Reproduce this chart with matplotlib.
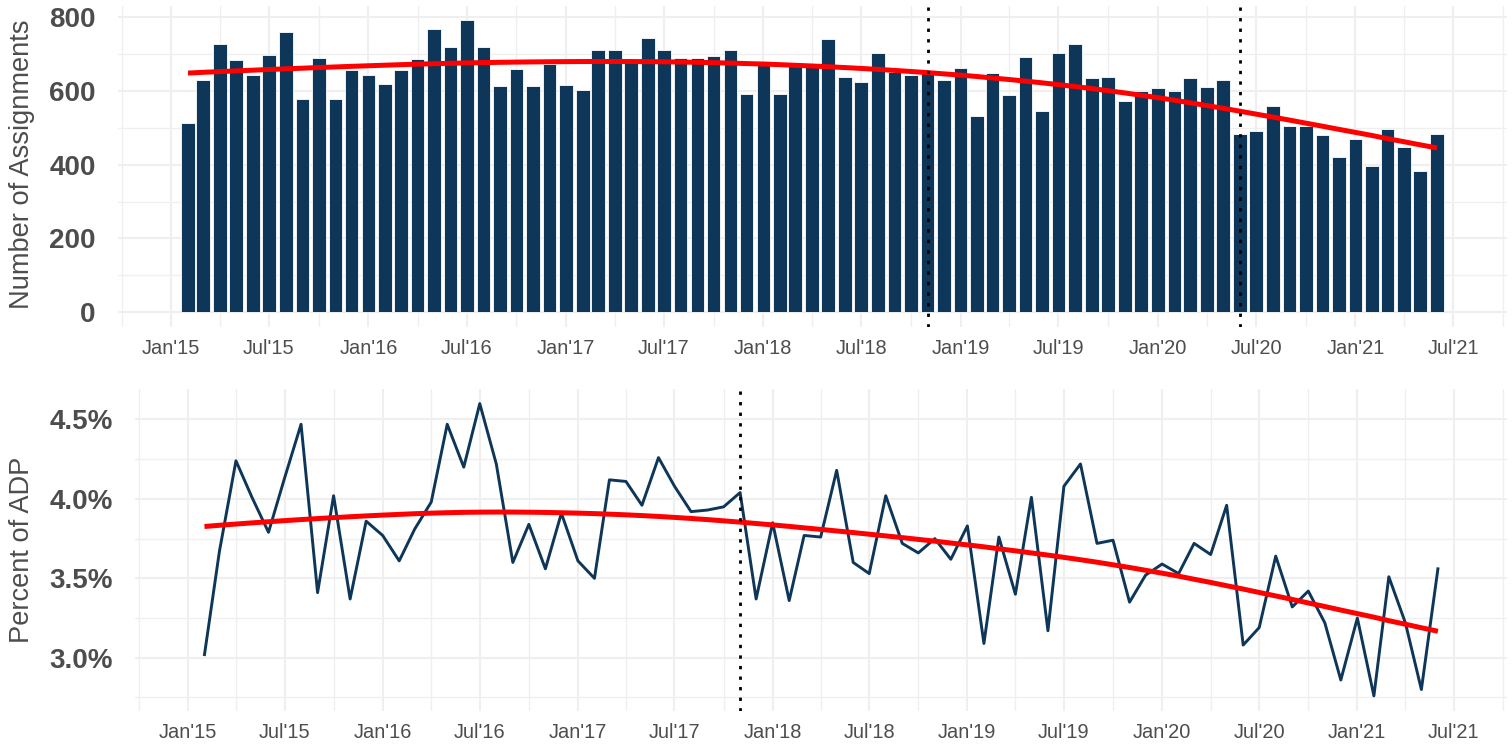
import numpy as np
import pandas as pd
import matplotlib
matplotlib.use("Agg")
import matplotlib.pyplot as plt
import matplotlib.dates as mdates
from matplotlib.ticker import MultipleLocator, FuncFormatter

plt.rcParams['font.family'] = ['Liberation Sans', 'DejaVu Sans']

# monthly observations, Feb 2015 .. Jun 2021
months = pd.date_range('2015-02-01', '2021-06-01', freq='MS')

assignments = [512, 630, 725, 683, 641, 697, 758, 576, 688, 576, 655,       # 2015
               643, 617, 655, 685, 766, 719, 790, 717, 612, 658, 612, 671,  # 2016
               615, 602, 709, 709, 686, 743, 711, 688, 688, 695, 711, 592,  # 2017
               679, 591, 666, 664, 740, 636, 622, 703, 650, 641, 648, 630,  # 2018
               660, 532, 649, 587, 691, 544, 703, 725, 634, 638, 573, 600,  # 2019
               608, 598, 634, 611, 629, 484, 490, 558, 503, 503, 480, 420,  # 2020
               470, 395, 497, 448, 383, 484]                                # 2021

pct_adp = [3.02, 3.67, 4.24, 4.01, 3.79, 4.13, 4.47, 3.41, 4.02, 3.37, 3.86,        # 2015
           3.77, 3.61, 3.81, 3.98, 4.47, 4.20, 4.60, 4.22, 3.60, 3.84, 3.56, 3.91,  # 2016
           3.61, 3.50, 4.12, 4.11, 3.96, 4.26, 4.08, 3.92, 3.93, 3.95, 4.04, 3.37,  # 2017
           3.85, 3.36, 3.77, 3.76, 4.18, 3.60, 3.53, 4.02, 3.72, 3.66, 3.75, 3.62,  # 2018
           3.83, 3.09, 3.76, 3.40, 4.01, 3.17, 4.08, 4.22, 3.72, 3.74, 3.35, 3.52,  # 2019
           3.59, 3.53, 3.72, 3.65, 3.96, 3.08, 3.19, 3.64, 3.32, 3.42, 3.22, 2.86,  # 2020
           3.25, 2.76, 3.51, 3.22, 2.80, 3.56]                                      # 2021

top_events = ['2018-11-01', '2020-06-01']
bottom_events = ['2017-11-01']

NAVY = '#0D3658'
TXT = '#4D4D4D'
GRID = '#EFEFEF'
DOTS = (0, (1.2, 2.6))


def smooth(y, lam=1e4):
    # penalised (second-difference) smoother, spline-like trend
    y = np.asarray(y, float)
    n = len(y)
    D = np.diff(np.eye(n), 2, axis=0)
    return np.linalg.solve(np.eye(n) + lam * D.T @ D, y)


def style_axes(ax):
    for s in ax.spines.values():
        s.set_visible(False)
    ax.xaxis.set_major_locator(mdates.MonthLocator(bymonth=[1, 7]))
    ax.xaxis.set_minor_locator(mdates.MonthLocator(bymonth=[4, 10]))
    ax.xaxis.set_major_formatter(mdates.DateFormatter("%b'%y"))
    ax.grid(which='major', color=GRID, lw=1.5)
    ax.grid(which='minor', color=GRID, lw=0.9)
    ax.set_axisbelow(True)
    ax.tick_params(axis='both', which='both', length=0)
    ax.tick_params(axis='x', labelsize=14.4, labelcolor=TXT, pad=9)
    ax.tick_params(axis='y', labelsize=20, labelcolor=TXT, pad=16)
    for lab in ax.get_yticklabels():
        lab.set_fontweight('bold')
    xmin = mdates.date2num(pd.Timestamp('2015-01-01')) - 98.5
    xmax = mdates.date2num(pd.Timestamp('2021-07-01')) + 99.5
    ax.set_xlim(xmin, xmax)


x = mdates.date2num(months)

fig = plt.figure(figsize=(15.12, 7.46), dpi=100)
W, H = 1512, 746

# top: number of assignments
ax1 = fig.add_axes([118 / W, 1 - 327 / H, (1507 - 118) / W, (327 - 5.8) / H])
ax1.bar(x, assignments, width=25.2, color=NAVY, edgecolor='white', linewidth=0.6, zorder=2)
ax1.plot(x, smooth(assignments), color='red', lw=3.6, zorder=3, solid_capstyle='butt')
for d in top_events:
    ax1.axvline(mdates.date2num(pd.Timestamp(d)), color='black', lw=2.0, ls=DOTS, zorder=4)
ymax = max(assignments)
ax1.set_ylim(-0.05 * ymax, 1.05 * ymax)
ax1.yaxis.set_major_locator(MultipleLocator(200))
ax1.yaxis.set_minor_locator(MultipleLocator(100))
style_axes(ax1)

# bottom: percent of ADP
ax2 = fig.add_axes([135.4 / W, 1 - 710.5 / H, (1507 - 135.4) / W, (710.5 - 389) / H])
ax2.plot(x, pct_adp, color=NAVY, lw=2.1, zorder=2)
ax2.plot(x, smooth(pct_adp), color='red', lw=3.6, zorder=3, solid_capstyle='butt')
for d in bottom_events:
    ax2.axvline(mdates.date2num(pd.Timestamp(d)), color='black', lw=2.0, ls=DOTS, zorder=4)
lo, hi = min(pct_adp), max(pct_adp)
ax2.set_ylim(lo - 0.05 * (hi - lo), hi + 0.05 * (hi - lo))
ax2.yaxis.set_major_locator(MultipleLocator(0.5))
ax2.yaxis.set_minor_locator(MultipleLocator(0.25))
ax2.yaxis.set_major_formatter(FuncFormatter(lambda v, p: f'{v:.1f}%'))
style_axes(ax2)

fig.text(22 / W, 1 - 164 / H, 'Number of Assignments', rotation=90,
         ha='center', va='center', fontsize=19.6, color=TXT)
fig.text(22 / W, 1 - 550 / H, 'Percent of ADP', rotation=90,
         ha='center', va='center', fontsize=19.6, color=TXT)

fig.savefig('out.png', dpi=100)
